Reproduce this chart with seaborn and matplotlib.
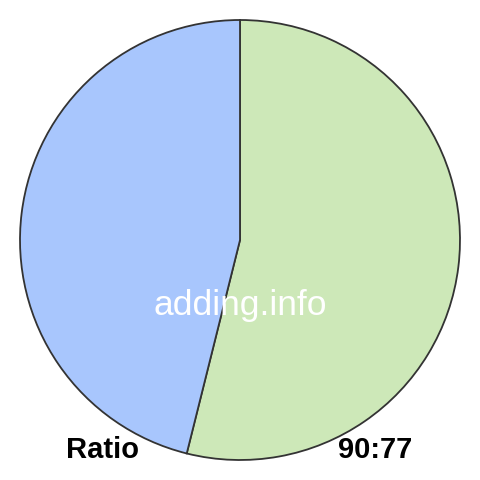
import seaborn as sns
import matplotlib.pyplot as plt

labels = ["90", "77"]
values = [90, 77]
colors = ["#cde8b8", "#a8c6fd"]
title_left = "Ratio"
title_right = "90:77"
watermark = "adding.info"

sns.set_style("white")
plt.rcParams['font.family'] = ['Liberation Sans', 'DejaVu Sans']

fig = plt.figure(figsize=(4.8, 4.8), dpi=100)
ax = fig.add_axes([0, 0, 1, 1])
ax.pie(values, colors=colors, startangle=90, counterclock=False,
       wedgeprops=dict(edgecolor="#333333", linewidth=1.3))
lim = 240 / 220
ax.set_xlim(-lim, lim)
ax.set_ylim(-lim, lim)
ax.set_aspect("equal")
ax.axis("off")

ax.text(0, -0.30, watermark, color="white", fontsize=25.5, ha="center", va="center")
fig.text(103 / 480, 1 - 450 / 480, title_left, fontsize=21, fontweight="bold",
         color="black", ha="center", va="center")
fig.text(375 / 480, 1 - 450 / 480, title_right, fontsize=21, fontweight="bold",
         color="black", ha="center", va="center")

fig.savefig("out.png", dpi=100, facecolor="white")
